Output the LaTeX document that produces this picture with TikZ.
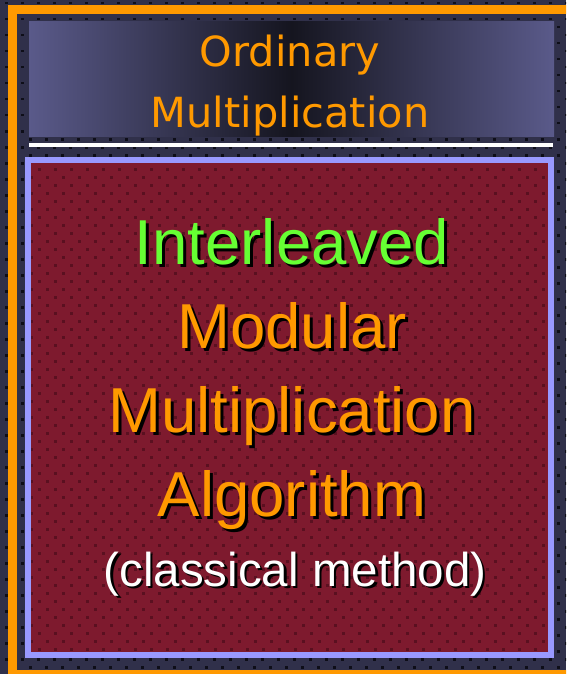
\documentclass[tikz,border=0pt]{standalone}
\usepackage{fontspec}
\setmainfont{Liberation Sans}
\newfontfamily\titlefont{DejaVu Sans}
\definecolor{bgnavy}{HTML}{30304A}
\definecolor{bgdotc}{HTML}{0E0E18}
\definecolor{boxred}{HTML}{7E1A2E}
\definecolor{reddotc}{HTML}{5A1020}
\definecolor{lav}{HTML}{9999FF}
\definecolor{orng}{HTML}{FF9900}
\definecolor{grn}{HTML}{66FF33}
\definecolor{titlelight}{HTML}{5A5A8A}
\definecolor{titledark}{HTML}{15151F}
\tikzset{
  bigtext/.style={anchor=base, inner sep=0pt, font=\fontsize{63.5}{63.5}\selectfont},
  smalltext/.style={anchor=base, inner sep=0pt, font=\fontsize{47.5}{47.5}\selectfont},
  titletext/.style={anchor=base, inner sep=0pt, text=orng, font=\titlefont\fontsize{41.5}{41.5}\selectfont},
  shadowtext/.style={text=black},
}
\begin{document}
\begin{tikzpicture}[x=1pt,y=-1pt]
\useasboundingbox (0,0) rectangle (566,674);
\clip (0,0) rectangle (566,674);
% background
\fill[bgnavy] (0,0) rectangle (566,674);
\foreach \r in {0,...,84}{
  \pgfmathsetmacro\off{mod(\r,2)*8}
  \foreach \c in {0,...,35}{
    \fill[bgdotc] (\c*16+\off+5,\r*8+2) rectangle ++(2.5,2.5);
  }
}
% orange frame
\draw[orng, line width=9pt] (12.5,9.5) rectangle (590,674.5);
% title box
\shade[left color=titlelight, right color=titlelight, middle color=titledark] (29,22) rectangle (554,136);
\node[titletext] (ord) at (290,67) {Ordinary};
\node[titletext] (mul) at (290,128) {Multiplication};
% white rule
\fill[white] (29,143) rectangle (553,146.5);
% red box
\fill[boxred] (28,160) rectangle (551,655);
\begin{scope}
\clip (28,160) rectangle (551,655);
\foreach \r in {0,...,62}{
  \pgfmathsetmacro\off{mod(\r,2)*8}
  \foreach \c in {0,...,33}{
    \fill[reddotc] (\c*16+\off+30,\r*8+160) rectangle ++(2.5,2.5);
  }
}
\end{scope}
\draw[lav, line width=6pt] (28,160) rectangle (551,655);
% main text with shadows
\node[bigtext, shadowtext] (l1s) at (295,267.5) {Interleaved};
\node[bigtext, text=grn] (l1) at (292,264.5) {Interleaved};
\node[bigtext, shadowtext] (l2s) at (295,351.5) {Modular};
\node[bigtext, text=orng] (l2) at (292,348.5) {Modular};
\node[bigtext, shadowtext] (l3s) at (295,435) {Multiplication};
\node[bigtext, text=orng] (l3) at (292,432) {Multiplication};
\node[bigtext, shadowtext] (l4s) at (295,519) {Algorithm};
\node[bigtext, text=orng] (l4) at (292,516) {Algorithm};
\node[smalltext, shadowtext] (l5s) at (297.5,588.5) {(classical method)};
\node[smalltext, text=white] (l5) at (295,586) {(classical method)};
\end{tikzpicture}
\end{document}
